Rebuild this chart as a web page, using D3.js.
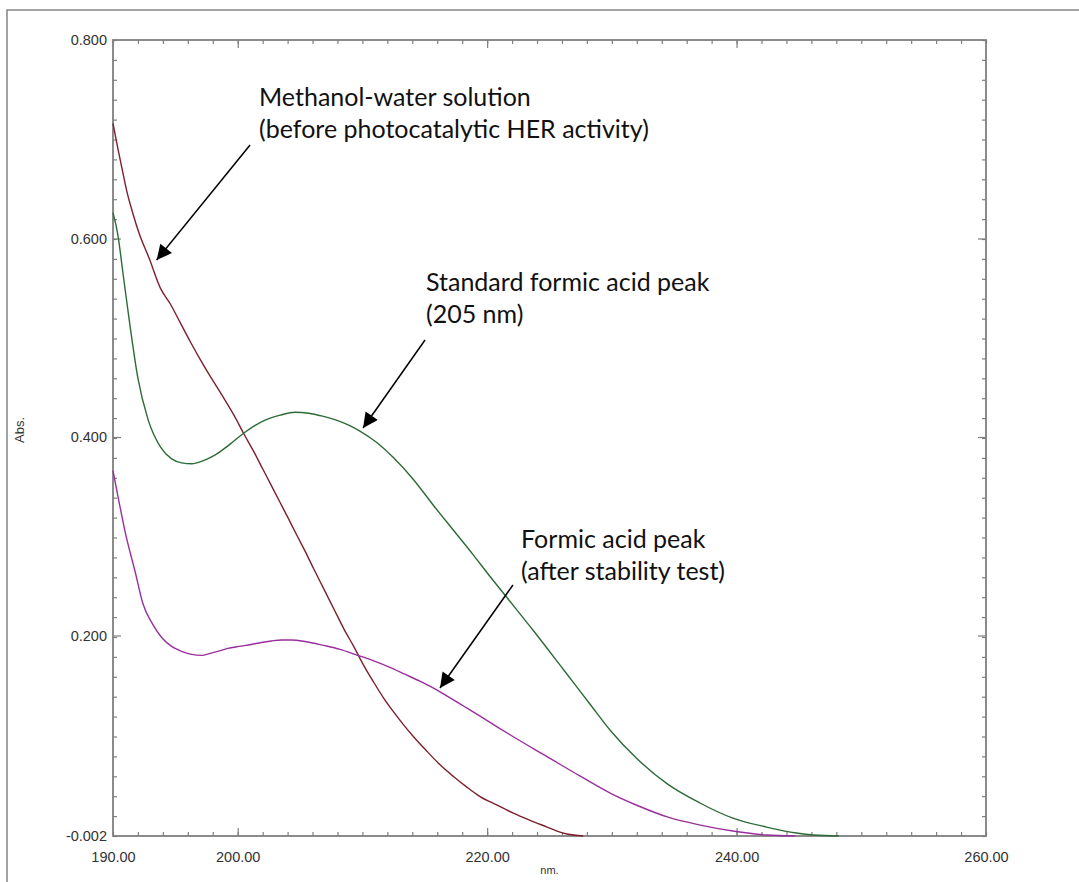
<!DOCTYPE html>
<html>
<head>
<meta charset="utf-8">
<script src="https://cdn.jsdelivr.net/npm/d3@7"></script>
<style>
  html, body { margin: 0; padding: 0; background: #fff; }
  svg { display: block; }
</style>
</head>
<body>
<script>
// UV-Vis absorbance spectra (wavelength in nm, absorbance)
const methanolWater = [
  [190.0, 0.716], [190.4, 0.690], [190.7, 0.672], [191.1, 0.648], [191.6, 0.625],
  [192.1, 0.605], [192.9, 0.580], [193.8, 0.550], [194.6, 0.534], [195.4, 0.515],
  [196.2, 0.496], [197.0, 0.478], [197.8, 0.461], [198.7, 0.443], [199.7, 0.422],
  [200.5, 0.403], [201.3, 0.385], [202.0, 0.368], [202.7, 0.351], [203.4, 0.334],
  [204.1, 0.317], [204.7, 0.302], [205.4, 0.285], [206.1, 0.267], [206.9, 0.247],
  [207.7, 0.227], [208.5, 0.207], [209.3, 0.189], [210.1, 0.170], [210.9, 0.153],
  [211.7, 0.137], [212.5, 0.123], [213.3, 0.110], [214.1, 0.098], [215.2, 0.083],
  [216.2, 0.070], [217.3, 0.058], [218.4, 0.047], [219.4, 0.038], [220.8, 0.029],
  [222.1, 0.021], [223.4, 0.014], [224.8, 0.007], [225.6, 0.003], [226.4, 0.000],
  [227.7, -0.002]
];

const standardFormic = [
  [190.0, 0.626], [190.4, 0.603], [190.8, 0.565], [191.3, 0.518], [192.0, 0.459],
  [192.8, 0.418], [193.8, 0.390], [194.7, 0.378], [195.5, 0.374], [196.3, 0.373],
  [197.4, 0.377], [198.2, 0.382], [199.0, 0.389], [199.7, 0.396], [200.5, 0.404],
  [201.3, 0.411], [202.2, 0.417], [203.4, 0.422], [204.6, 0.425], [205.7, 0.424],
  [206.8, 0.421], [207.9, 0.417], [208.9, 0.412], [209.8, 0.406], [211.2, 0.394],
  [212.5, 0.379], [214.1, 0.357], [215.7, 0.331], [217.3, 0.306], [218.9, 0.281],
  [220.2, 0.260], [221.6, 0.238], [223.7, 0.205], [226.1, 0.166], [228.3, 0.130],
  [229.9, 0.104], [232.0, 0.076], [234.5, 0.050], [237.1, 0.031], [239.7, 0.016],
  [242.4, 0.007], [244.8, 0.001], [246.2, -0.001], [248.2, -0.002]
];

const afterStability = [
  [190.0, 0.366], [190.4, 0.340], [191.0, 0.303], [191.8, 0.263], [192.4, 0.232],
  [193.2, 0.211], [193.9, 0.198], [194.7, 0.189], [195.5, 0.184], [196.3, 0.181],
  [197.1, 0.180], [197.8, 0.182], [198.4, 0.184], [199.2, 0.187], [200.1, 0.189],
  [201.1, 0.191], [201.9, 0.193], [202.7, 0.1945], [203.5, 0.1955], [204.3, 0.1955],
  [205.4, 0.194], [206.9, 0.190], [208.2, 0.186], [209.4, 0.181], [210.8, 0.175],
  [212.2, 0.168], [213.4, 0.161], [214.6, 0.154], [215.7, 0.147], [216.8, 0.139],
  [218.1, 0.129], [219.4, 0.119], [220.8, 0.108], [222.1, 0.098], [224.8, 0.078],
  [227.5, 0.058], [229.9, 0.041], [232.0, 0.029], [234.5, 0.017], [237.1, 0.009],
  [239.7, 0.003], [242.4, -0.001], [244.7, -0.002]
];

const seriesNames = ["Methanol-water", "Standard formic acid", "After stability test"];
const seriesColors = ["#7e1f2c", "#2c6b36", "#9a2e9e"];

// Axis tick values and their printed labels
const xTickValues = [190, 200, 220, 240, 260];
const xTickLabels = ["190.00", "200.00", "220.00", "240.00", "260.00"];
const yTickValues = [0.8, 0.6, 0.4, 0.2, -0.002];
const yTickLabels = ["0.800", "0.600", "0.400", "0.200", "-0.002"];
const xDomain = [190, 260];
const yDomain = [-0.002, 0.8];

// Callout notes: text anchor, arrow start and arrow tip in data units
const noteLines = [
  ["Methanol-water solution", "(before photocatalytic HER activity)"],
  ["Standard formic acid peak", "(205 nm)"],
  ["Formic acid peak", "(after stability test)"]
];
const noteText = [[201.71, 0.7335], [215.10, 0.5471], [222.72, 0.2882]];
const noteFrom = [[200.99, 0.6942], [215.02, 0.4977], [222.07, 0.2509]];
const noteTo   = [[193.50, 0.5783], [210.05, 0.4091], [216.22, 0.1471]];

const W = 1079, H = 882;
const plot = { left: 113, top: 40, right: 986, bottom: 836 };

const svg = d3.select("body").append("svg")
  .attr("width", W).attr("height", H)
  .attr("viewBox", `0 0 ${W} ${H}`);

// outer window frame
svg.append("rect")
  .attr("x", 7).attr("y", 10)
  .attr("width", W + 20).attr("height", H + 20)
  .attr("fill", "none").attr("stroke", "#8c8c8c").attr("stroke-width", 1.6);

const x = d3.scaleLinear().domain(xDomain).range([plot.left, plot.right]);
const y = d3.scaleLinear().domain(yDomain).range([plot.bottom, plot.top]);

const axisColor = "#7f7f7f";
const labelFont = "'Liberation Sans', Arial, sans-serif";

// minor and major tick marks on all four sides (pointing inward)
const xMinor = d3.range(xDomain[0], xDomain[1] + 0.001, 2);
const xMajor = [200, 220, 240];
const yMinor = d3.range(0, 41).map(k => yDomain[0] + k * (yDomain[1] - yDomain[0]) / 40);
const yMajor = [0.6, 0.4, 0.2];

function tickLayer(axisGen, transform) {
  const g = svg.append("g").attr("transform", transform).call(axisGen);
  g.select(".domain").remove();
  g.selectAll(".tick line").attr("stroke", axisColor).attr("stroke-width", 1.2);
  return g;
}

tickLayer(d3.axisBottom(x).tickValues(xMinor).tickSize(-4).tickFormat(""), `translate(0,${plot.bottom})`);
tickLayer(d3.axisBottom(x).tickValues(xMajor).tickSize(-8).tickFormat(""), `translate(0,${plot.bottom})`);
tickLayer(d3.axisTop(x).tickValues(xMinor).tickSize(-4).tickFormat(""), `translate(0,${plot.top})`);
tickLayer(d3.axisTop(x).tickValues(xMajor).tickSize(-8).tickFormat(""), `translate(0,${plot.top})`);
tickLayer(d3.axisLeft(y).tickValues(yMinor).tickSize(-4).tickFormat(""), `translate(${plot.left},0)`);
tickLayer(d3.axisLeft(y).tickValues(yMajor).tickSize(-8).tickFormat(""), `translate(${plot.left},0)`);
tickLayer(d3.axisRight(y).tickValues(yMinor).tickSize(-4).tickFormat(""), `translate(${plot.right},0)`);
tickLayer(d3.axisRight(y).tickValues(yMajor).tickSize(-8).tickFormat(""), `translate(${plot.right},0)`);

// tick labels
const xLab = svg.append("g").attr("transform", `translate(0,${plot.bottom})`)
  .call(d3.axisBottom(x).tickValues(xTickValues).tickSize(0).tickPadding(16)
    .tickFormat((d, i) => xTickLabels[i]));
xLab.select(".domain").remove();
xLab.selectAll("text").attr("font-family", labelFont).attr("font-size", 14.5).attr("fill", "#333");

const yLab = svg.append("g").attr("transform", `translate(${plot.left},0)`)
  .call(d3.axisLeft(y).tickValues(yTickValues).tickSize(0).tickPadding(6)
    .tickFormat((d, i) => yTickLabels[i]));
yLab.select(".domain").remove();
yLab.selectAll("text").attr("font-family", labelFont).attr("font-size", 14.5).attr("fill", "#333");

// plot frame
svg.append("rect")
  .attr("x", plot.left).attr("y", plot.top)
  .attr("width", plot.right - plot.left).attr("height", plot.bottom - plot.top)
  .attr("fill", "none").attr("stroke", axisColor).attr("stroke-width", 1.8);

// axis titles
svg.append("text")
  .attr("transform", `translate(24,${(plot.top + plot.bottom) / 2 - 8}) rotate(-90)`)
  .attr("text-anchor", "middle")
  .attr("font-family", labelFont).attr("font-size", 13).attr("fill", "#333")
  .text("Abs.");
svg.append("text")
  .attr("x", (plot.left + plot.right) / 2).attr("y", 874)
  .attr("text-anchor", "middle")
  .attr("font-family", labelFont).attr("font-size", 11).attr("fill", "#333")
  .text("nm.");

// spectra
const line = d3.line().x(d => x(d[0])).y(d => y(d[1])).curve(d3.curveMonotoneX);
const spectra = [methanolWater, standardFormic, afterStability];
svg.append("g").selectAll("path")
  .data(spectra)
  .join("path")
  .attr("class", (d, i) => "spectrum s" + i)
  .attr("d", line)
  .attr("fill", "none")
  .attr("stroke", (d, i) => seriesColors[i])
  .attr("stroke-width", 1.4)
  .append("title").text((d, i) => seriesNames[i]);

// callouts
svg.append("defs").append("marker")
  .attr("id", "head")
  .attr("viewBox", "0 0 10 10")
  .attr("refX", 10).attr("refY", 5)
  .attr("markerUnits", "userSpaceOnUse")
  .attr("markerWidth", 20).attr("markerHeight", 15)
  .attr("orient", "auto")
  .append("path").attr("d", "M0,0 L10,5 L0,10 Z").attr("fill", "#000");

const notes = svg.append("g");
noteLines.forEach((lines, i) => {
  notes.append("line")
    .attr("x1", x(noteFrom[i][0])).attr("y1", y(noteFrom[i][1]))
    .attr("x2", x(noteTo[i][0])).attr("y2", y(noteTo[i][1]))
    .attr("stroke", "#000").attr("stroke-width", 1.5)
    .attr("marker-end", "url(#head)");
  const t = notes.append("text")
    .attr("x", x(noteText[i][0])).attr("y", y(noteText[i][1]))
    .attr("font-family", "Lato, 'Open Sans', sans-serif")
    .attr("font-size", 25).attr("fill", "#111");
  lines.forEach((s, j) => {
    t.append("tspan")
      .attr("x", x(noteText[i][0]))
      .attr("dy", j === 0 ? 0 : 32)
      .text(s);
  });
});
</script>
</body>
</html>
